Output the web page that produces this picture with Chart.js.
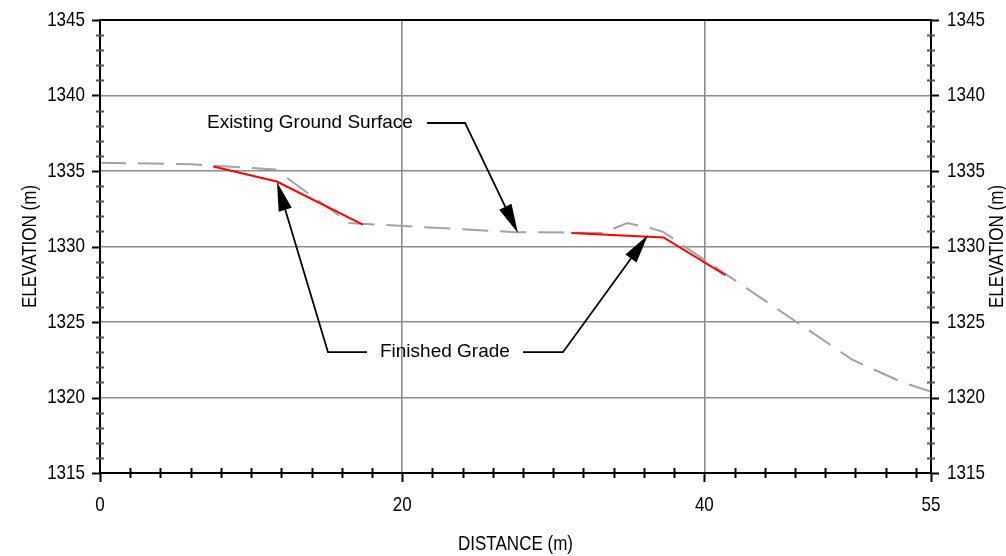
<!DOCTYPE html>
<html>
<head>
<meta charset="utf-8">
<script src="https://cdn.jsdelivr.net/npm/chart.js@4.4.0/dist/chart.umd.min.js"></script>
<style>
  html, body { margin: 0; padding: 0; background: #fff; }
</style>
</head>
<body>
<canvas id="myChart" width="1006" height="556"></canvas>
<script>
/**
 * DATA
 */
// existing ground surface (gray dashed)
const groundDist = [0, 6, 11.6, 16.5, 27.5, 33.3, 34.9, 36.5, 37.3, 49.8, 53.1, 55]
const groundElev = [1335.55, 1335.45, 1335.1, 1331.55, 1330.95, 1330.9, 1331.55, 1331.2, 1330.95, 1322.5, 1321.0, 1320.4]

// finished grade (red), null = break between the two pieces
const gradeDist = [7.5, 11.7, 17.4, null, 31.2, 37.3, 41.4]
const gradeElev = [1335.3, 1334.3, 1331.45, null, 1330.9, 1330.6, 1328.1]

const xTickLabels = [0, 20, 40, 55]
const yTickLabels = [1315, 1320, 1325, 1330, 1335, 1340, 1345]

// callouts, in data units (distance, elevation)
const callouts = [
    { text: 'Existing Ground Surface', at: [7.08, 1338.18],
      legs: [[[21.64, 1338.18], [24.16, 1338.18], [27.66, 1330.9]]] },
    { text: 'Finished Grade', at: [18.53, 1323.0],
      legs: [[[17.67, 1323.0], [15.09, 1323.0], [11.71, 1334.27]],
             [[28.0, 1323.0], [30.64, 1323.0], [36.27, 1330.76]]] }
]

const regular = '"Liberation Sans", Arial, sans-serif'
const axisFont = '21px ' + regular
const squeeze = 0.81   // no narrow font installed, so squeeze Liberation Sans a bit

const toPoints = (xs, ys) => xs.map((x, i) => ({ x: x, y: ys[i] }))

// draw narrow-looking text at (px,py), optionally rotated
let narrowText = (ctx, text, px, py, align, rot) => {
    ctx.save()
    ctx.translate(px, py)
    if (rot) ctx.rotate(rot)
    ctx.scale(squeeze, 1)
    ctx.font = axisFont
    ctx.textAlign = align
    ctx.textBaseline = 'middle'
    ctx.fillText(text, 0, 0)
    ctx.restore()
}

/**
 * PLUGIN: frame, ticks, labels, titles, callouts
 */
const frameAndNotes = {
    id: 'frameAndNotes',
    afterDatasetsDraw(chart) {
        const ctx = chart.ctx
        const x = chart.scales.x
        const y = chart.scales.y
        const area = chart.chartArea
        ctx.save()

        // callouts
        ctx.strokeStyle = '#000'
        ctx.fillStyle = '#000'
        ctx.lineWidth = 1.8
        ctx.font = '19px ' + regular
        ctx.textBaseline = 'middle'
        ctx.textAlign = 'left'
        callouts.forEach(c => {
            ctx.fillText(c.text, x.getPixelForValue(c.at[0]), y.getPixelForValue(c.at[1]))
            c.legs.forEach(leg => {
                const pts = leg.map(p => [x.getPixelForValue(p[0]), y.getPixelForValue(p[1])])
                const tip = pts[pts.length - 1]
                const prev = pts[pts.length - 2]
                const ang = Math.atan2(tip[1] - prev[1], tip[0] - prev[0])
                const len = 29, half = 6.8
                const bx = tip[0] - Math.cos(ang) * len
                const by = tip[1] - Math.sin(ang) * len
                ctx.beginPath()
                ctx.moveTo(pts[0][0], pts[0][1])
                for (let i = 1; i < pts.length - 1; i++) ctx.lineTo(pts[i][0], pts[i][1])
                ctx.lineTo(bx, by)
                ctx.stroke()
                ctx.beginPath()
                ctx.moveTo(tip[0], tip[1])
                ctx.lineTo(bx - Math.sin(ang) * half, by + Math.cos(ang) * half)
                ctx.lineTo(bx + Math.sin(ang) * half, by - Math.cos(ang) * half)
                ctx.closePath()
                ctx.fill()
            })
        })

        // frame
        ctx.strokeStyle = '#000'
        ctx.lineWidth = 2
        ctx.strokeRect(area.left, area.top, area.right - area.left, area.bottom - area.top)

        // y ticks, both sides
        for (let v = 1315; v <= 1345; v++) {
            const py = Math.round(y.getPixelForValue(v)) + 0.5
            ctx.beginPath()
            if (v % 5 === 0) {
                ctx.strokeStyle = '#000'
                ctx.moveTo(area.left - 8, py); ctx.lineTo(area.left, py)
                ctx.moveTo(area.right, py); ctx.lineTo(area.right + 8, py)
            } else {
                ctx.strokeStyle = '#555'
                ctx.moveTo(area.left - 4, py); ctx.lineTo(area.left + 4, py)
                ctx.moveTo(area.right - 4, py); ctx.lineTo(area.right + 4, py)
            }
            ctx.stroke()
        }

        // x ticks
        ctx.strokeStyle = '#000'
        for (let v = 0; v <= 55; v++) {
            const px = Math.round(x.getPixelForValue(v)) + 0.5
            ctx.beginPath()
            if (xTickLabels.includes(v)) {
                ctx.moveTo(px, area.bottom); ctx.lineTo(px, area.bottom + 9)
            } else if (v % 2 === 0) {
                ctx.moveTo(px, area.bottom - 5); ctx.lineTo(px, area.bottom + 5)
            } else continue
            ctx.stroke()
        }

        // tick labels
        ctx.fillStyle = '#000'
        y.ticks.forEach(t => {
            const py = y.getPixelForValue(t.value)
            narrowText(ctx, String(t.value), area.left - 15, py, 'right')
            narrowText(ctx, String(t.value), area.right + 16, py, 'left')
        })
        x.ticks.forEach(t => {
            narrowText(ctx, String(t.value), x.getPixelForValue(t.value), area.bottom + 32, 'center')
        })

        // axis titles
        const midY = (area.top + area.bottom) / 2
        narrowText(ctx, 'DISTANCE (m)', (area.left + area.right) / 2, 544, 'center')
        narrowText(ctx, 'ELEVATION (m)', 30, midY, 'center', -Math.PI / 2)
        narrowText(ctx, 'ELEVATION (m)', 997, midY, 'center', -Math.PI / 2)
        ctx.restore()
    }
}

/**
 * CHART
 */
const data = {
    datasets: [{
        label: 'Finished Grade',
        data: toPoints(gradeDist, gradeElev),
        borderColor: '#ff0000',
        borderWidth: 2,
        pointRadius: 0,
        spanGaps: false
    }, {
        label: 'Existing Ground Surface',
        data: toPoints(groundDist, groundElev),
        borderColor: '#a3a3a3',
        borderWidth: 2,
        borderDash: [26, 12],
        pointRadius: 0
    }]
}

const gridColor = (keep) => (c) => keep.includes(c.tick.value) ? '#8c8c8c' : 'rgba(0,0,0,0)'

const config = {
    type: 'line',
    data: data,
    plugins: [frameAndNotes],
    options: {
        responsive: false,
        animation: false,
        layout: { padding: { top: 20, left: 0, right: 0, bottom: 0 } },
        plugins: { legend: { display: false }, tooltip: { enabled: false } },
        scales: {
            x: {
                type: 'linear',
                min: 0, max: 55,
                afterBuildTicks: s => { s.ticks = xTickLabels.map(v => ({ value: v })) },
                afterFit: s => { s.height = 83 },
                grid: { color: gridColor([20, 40]), lineWidth: 1.6, drawTicks: false },
                border: { display: false },
                ticks: { display: false }
            },
            y: {
                type: 'linear',
                position: 'left',
                min: 1315, max: 1345,
                afterBuildTicks: s => { s.ticks = yTickLabels.map(v => ({ value: v })) },
                afterFit: s => { s.width = 100 },
                grid: { color: gridColor([1320, 1325, 1330, 1335, 1340]), lineWidth: 1.6, drawTicks: false },
                border: { display: false },
                ticks: { display: false }
            },
            y2: {
                type: 'linear',
                position: 'right',
                min: 1315, max: 1345,
                afterFit: s => { s.width = 75 },
                grid: { display: false, drawTicks: false },
                border: { display: false },
                ticks: { display: false }
            }
        }
    }
}

const myChart = new Chart(document.getElementById('myChart'), config)
</script>
</body>
</html>
